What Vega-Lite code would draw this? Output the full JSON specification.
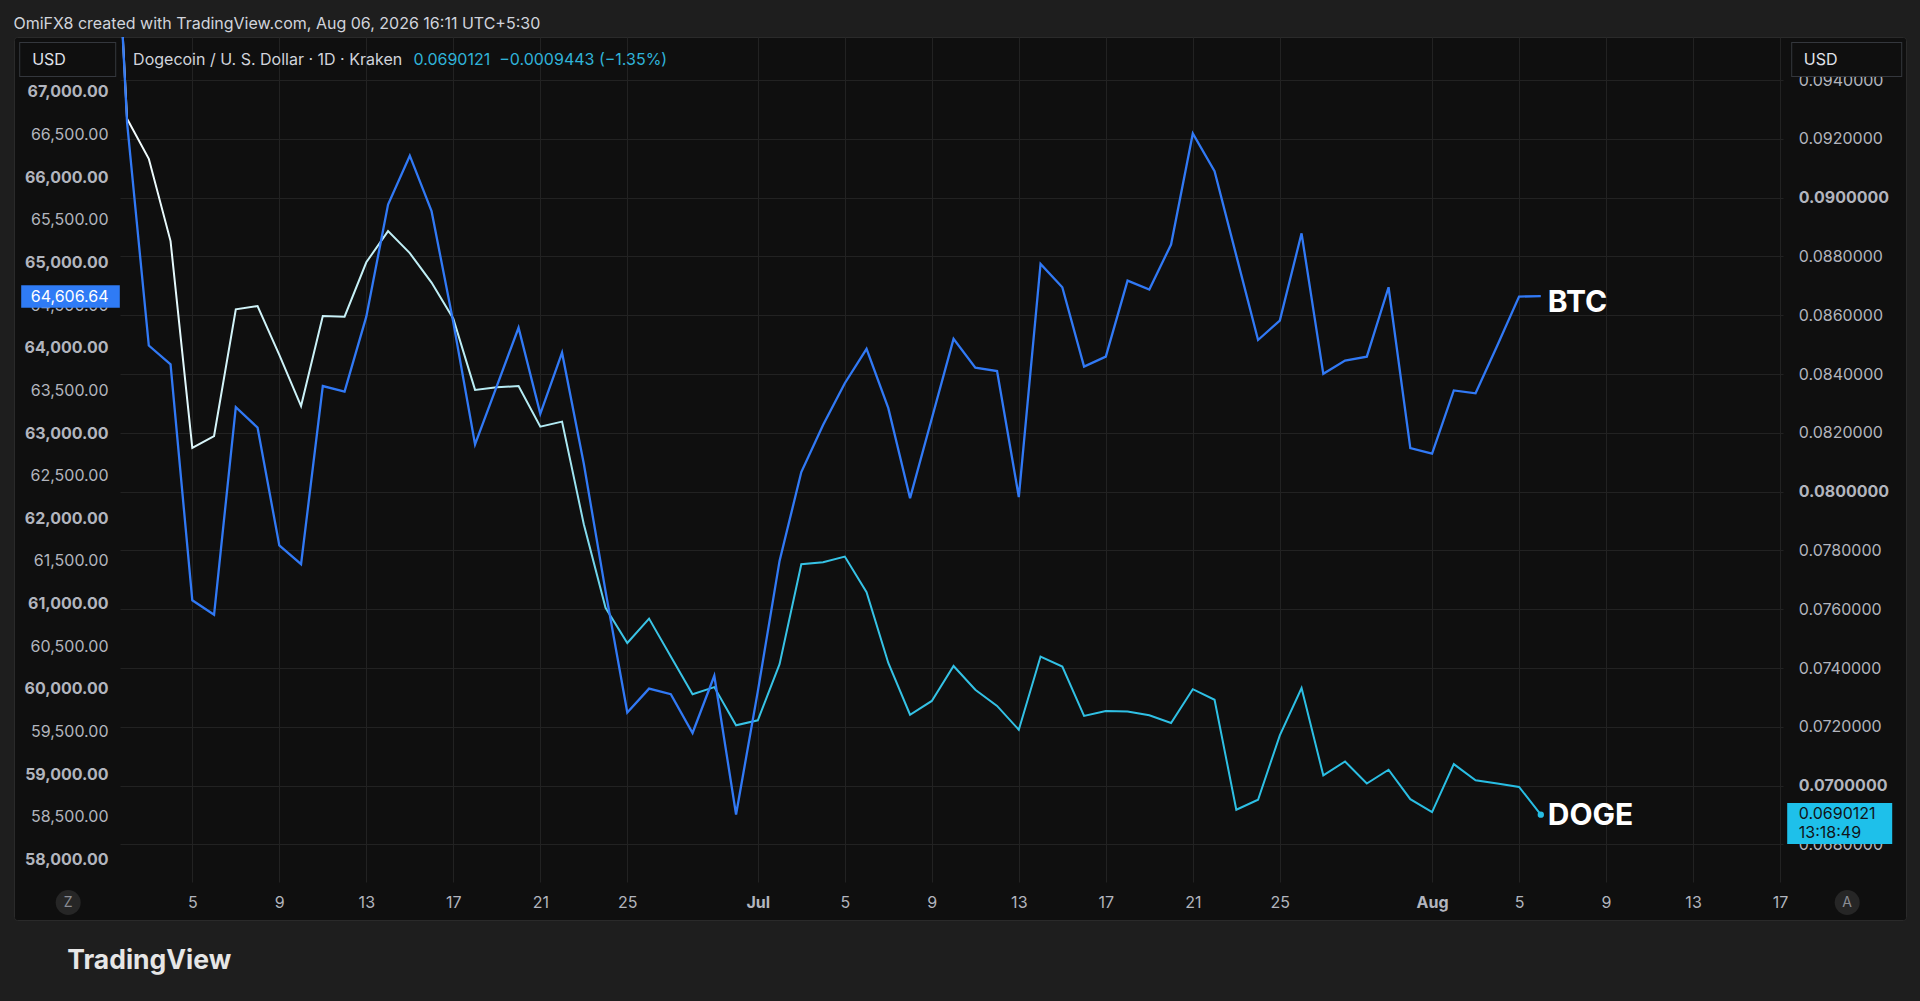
{
  "$schema": "https://vega.github.io/schema/vega-lite/v6.json",
  "width": 1892,
  "height": 883,
  "autosize": "none",
  "padding": {"left": 14, "top": 37, "right": 14, "bottom": 81},
  "background": "#1e1e1e",
  "config": {
    "view": {"fill": "#0f0f0f", "stroke": "#2a2a2a", "strokeWidth": 1, "cornerRadius": 3},
    "font": "Inter"
  },
  "title": {
    "text": "OmiFX8 created with TradingView.com, Aug 06, 2026 16:11 UTC+5:30",
    "anchor": "start",
    "frame": "group",
    "dx": -0.6,
    "offset": -3.7,
    "baseline": "middle",
    "font": "Inter",
    "fontSize": 16,
    "fontWeight": "normal",
    "color": "#d1d4dc"
  },
  "data": {
    "values": [
      {"date": "2026-06-01", "btc": 71700, "doge": 0.1070},
      {"date": "2026-06-02", "btc": 66644, "doge": 0.09268},
      {"date": "2026-06-03", "btc": 64026, "doge": 0.09132},
      {"date": "2026-06-04", "btc": 63805, "doge": 0.08852},
      {"date": "2026-06-05", "btc": 61038, "doge": 0.08149},
      {"date": "2026-06-06", "btc": 60868, "doge": 0.08189},
      {"date": "2026-06-07", "btc": 63304, "doge": 0.08620},
      {"date": "2026-06-08", "btc": 63063, "doge": 0.08631},
      {"date": "2026-06-09", "btc": 61682, "doge": 0.08465},
      {"date": "2026-06-10", "btc": 61461, "doge": 0.08291},
      {"date": "2026-06-11", "btc": 63551, "doge": 0.08597},
      {"date": "2026-06-12", "btc": 63486, "doge": 0.08595},
      {"date": "2026-06-13", "btc": 64365, "doge": 0.08780},
      {"date": "2026-06-14", "btc": 65680, "doge": 0.08886},
      {"date": "2026-06-15", "btc": 66253, "doge": 0.08811},
      {"date": "2026-06-16", "btc": 65602, "doge": 0.08711},
      {"date": "2026-06-17", "btc": 64300, "doge": 0.08588},
      {"date": "2026-06-18", "btc": 62867, "doge": 0.08346},
      {"date": "2026-06-19", "btc": 63551, "doge": 0.08355},
      {"date": "2026-06-20", "btc": 64235, "doge": 0.08359},
      {"date": "2026-06-21", "btc": 63225, "doge": 0.08221},
      {"date": "2026-06-22", "btc": 63942, "doge": 0.08238},
      {"date": "2026-06-23", "btc": 62640, "doge": 0.07889},
      {"date": "2026-06-24", "btc": 61142, "doge": 0.07605},
      {"date": "2026-06-25", "btc": 59722, "doge": 0.07485},
      {"date": "2026-06-26", "btc": 60002, "doge": 0.07568},
      {"date": "2026-06-27", "btc": 59937, "doge": 0.07439},
      {"date": "2026-06-28", "btc": 59481, "doge": 0.07311},
      {"date": "2026-06-29", "btc": 60152, "doge": 0.07335},
      {"date": "2026-06-30", "btc": 58525, "doge": 0.07205},
      {"date": "2026-07-01", "btc": 59970, "doge": 0.07222},
      {"date": "2026-07-02", "btc": 61500, "doge": 0.07413},
      {"date": "2026-07-03", "btc": 62542, "doge": 0.07753},
      {"date": "2026-07-04", "btc": 63095, "doge": 0.07760},
      {"date": "2026-07-05", "btc": 63584, "doge": 0.07779},
      {"date": "2026-07-06", "btc": 63987, "doge": 0.07658},
      {"date": "2026-07-07", "btc": 63291, "doge": 0.07417},
      {"date": "2026-07-08", "btc": 62236, "doge": 0.07241},
      {"date": "2026-07-09", "btc": 63170, "doge": 0.07288},
      {"date": "2026-07-10", "btc": 64104, "doge": 0.07407},
      {"date": "2026-07-11", "btc": 63766, "doge": 0.07326},
      {"date": "2026-07-12", "btc": 63727, "doge": 0.07271},
      {"date": "2026-07-13", "btc": 62249, "doge": 0.07190},
      {"date": "2026-07-14", "btc": 64983, "doge": 0.07439},
      {"date": "2026-07-15", "btc": 64710, "doge": 0.07405},
      {"date": "2026-07-16", "btc": 63779, "doge": 0.07237},
      {"date": "2026-07-17", "btc": 63896, "doge": 0.07254},
      {"date": "2026-07-18", "btc": 64788, "doge": 0.07252},
      {"date": "2026-07-19", "btc": 64684, "doge": 0.07239},
      {"date": "2026-07-20", "btc": 65211, "doge": 0.07213},
      {"date": "2026-07-21", "btc": 66513, "doge": 0.07328},
      {"date": "2026-07-22", "btc": 66071, "doge": 0.07292},
      {"date": "2026-07-23", "btc": 65081, "doge": 0.06918},
      {"date": "2026-07-24", "btc": 64091, "doge": 0.06952},
      {"date": "2026-07-25", "btc": 64319, "doge": 0.07171},
      {"date": "2026-07-26", "btc": 65342, "doge": 0.07332},
      {"date": "2026-07-27", "btc": 63694, "doge": 0.07035},
      {"date": "2026-07-28", "btc": 63850, "doge": 0.07082},
      {"date": "2026-07-29", "btc": 63896, "doge": 0.07007},
      {"date": "2026-07-30", "btc": 64710, "doge": 0.07054},
      {"date": "2026-07-31", "btc": 62822, "doge": 0.06954},
      {"date": "2026-08-01", "btc": 62757, "doge": 0.06910},
      {"date": "2026-08-02", "btc": 63499, "doge": 0.07073},
      {"date": "2026-08-03", "btc": 63466, "doge": 0.07018},
      {"date": "2026-08-04", "btc": 64026, "doge": 0.07007},
      {"date": "2026-08-05", "btc": 64600, "doge": 0.0699564},
      {"date": "2026-08-06", "btc": 64606.64, "doge": 0.0690121}
    ]
  },
  "encoding": {
    "x": {
      "field": "date",
      "type": "temporal",
      "scale": {
        "type": "utc",
        "domain": [
          {"year": 2026, "month": 5, "date": 27, "hours": 19, "minutes": 15, "utc": true},
          {"year": 2026, "month": 8, "date": 22, "hours": 18, "minutes": 58, "utc": true}
        ]
      },
      "axis": {
        "orient": "bottom",
        "offset": -38,
        "values": [
          {"year": 2026, "month": 6, "date": 5, "utc": true},
          {"year": 2026, "month": 6, "date": 9, "utc": true},
          {"year": 2026, "month": 6, "date": 13, "utc": true},
          {"year": 2026, "month": 6, "date": 17, "utc": true},
          {"year": 2026, "month": 6, "date": 21, "utc": true},
          {"year": 2026, "month": 6, "date": 25, "utc": true},
          {"year": 2026, "month": 7, "date": 1, "utc": true},
          {"year": 2026, "month": 7, "date": 5, "utc": true},
          {"year": 2026, "month": 7, "date": 9, "utc": true},
          {"year": 2026, "month": 7, "date": 13, "utc": true},
          {"year": 2026, "month": 7, "date": 17, "utc": true},
          {"year": 2026, "month": 7, "date": 21, "utc": true},
          {"year": 2026, "month": 7, "date": 25, "utc": true},
          {"year": 2026, "month": 8, "date": 1, "utc": true},
          {"year": 2026, "month": 8, "date": 5, "utc": true},
          {"year": 2026, "month": 8, "date": 9, "utc": true},
          {"year": 2026, "month": 8, "date": 13, "utc": true},
          {"year": 2026, "month": 8, "date": 17, "utc": true}
        ],
        "domain": false,
        "grid": false,
        "ticks": true,
        "tickSize": -845,
        "tickColor": "#222222",
        "tickWidth": 1,
        "labelPadding": 865.7,
        "labelBaseline": "middle",
        "labelAlign": "center",
        "labelExpr": "utcdate(datum.value) == 1 ? utcFormat(datum.value, '%b') : utcFormat(datum.value, '%-d')",
        "labelFontWeight": {"condition": {"test": "utcdate(datum.value) == 1", "value": "bold"}, "value": "normal"},
        "labelColor": "#b2b5be",
        "labelFont": "Inter",
        "labelFontSize": 16,
        "labelOverlap": false,
        "labelFlush": false,
        "labelBound": false,
        "title": "TradingView",
        "titleX": 52.7,
        "titleY": 78,
        "titleAnchor": "start",
        "titleAlign": "left",
        "titleBaseline": "middle",
        "titleFont": "Inter",
        "titleFontSize": 26.5,
        "titleFontWeight": "bold",
        "titleColor": "#e6e6e6",
        "zindex": 0
      }
    }
  },
  "layer": [
    {
      "mark": {
        "type": "line",
        "clip": true,
        "strokeWidth": 2,
        "stroke": {
          "gradient": "linear",
          "x1": 0, "y1": 0, "x2": 1, "y2": 0,
          "stops": [
            {"offset": 0, "color": "#ffffff"},
            {"offset": 0.08, "color": "#d3f4f9"},
            {"offset": 0.32, "color": "#b0eaf3"},
            {"offset": 0.36, "color": "#3ac4e6"},
            {"offset": 1, "color": "#27bde3"}
          ]
        }
      },
      "encoding": {
        "y": {
          "field": "doge",
          "type": "quantitative",
          "scale": {"domain": [0.065429, 0.0954626], "nice": false, "zero": false},
          "axis": {
            "orient": "right",
            "offset": -123,
            "values": [0.068, 0.07, 0.072, 0.074, 0.076, 0.078, 0.08, 0.082, 0.084, 0.086, 0.088, 0.09, 0.092, 0.094],
            "domain": false,
            "grid": false,
            "ticks": true,
            "tickSize": -1663,
            "tickColor": "#222222",
            "tickWidth": 1,
            "labelPadding": 1678.3,
            "labelAlign": "left",
            "labelBaseline": "middle",
            "labelExpr": "format(datum.value, '.7f')",
            "labelFontWeight": {"condition": {"test": "abs(datum.value * 100 - round(datum.value * 100)) < 0.000001", "value": "bold"}, "value": "normal"},
            "labelColor": "#b2b5be",
            "labelFont": "Inter",
            "labelFontSize": 16,
            "labelOverlap": false,
            "labelFlush": false,
            "labelBound": false,
            "title": "0.0690121\u00a0\u00a0−0.0009443 (−1.35%)",
            "titleX": -1370,
            "titleY": 22.3,
            "titleAngle": 0,
            "titleAlign": "left",
            "titleBaseline": "middle",
            "titleFont": "Inter",
            "titleFontSize": 16,
            "titleFontWeight": "normal",
            "titleColor": "#2fb3d9",
            "zindex": 0
          }
        }
      }
    },
    {
      "mark": {"type": "line", "clip": true, "strokeWidth": 2.3, "color": "#3179f5"},
      "encoding": {
        "y": {
          "field": "btc",
          "type": "quantitative",
          "scale": {"domain": [57288, 67645], "nice": false, "zero": false},
          "axis": {
            "orient": "left",
            "offset": -106,
            "values": [58000, 58500, 59000, 59500, 60000, 60500, 61000, 61500, 62000, 62500, 63000, 63500, 64000, 64500, 65000, 65500, 66000, 66500, 67000],
            "domain": false,
            "grid": false,
            "ticks": false,
            "labelPadding": 12,
            "labelAlign": "right",
            "labelBaseline": "middle",
            "labelExpr": "format(datum.value, ',.2f')",
            "labelFontWeight": {"condition": {"test": "datum.value % 1000 == 0", "value": "bold"}, "value": "normal"},
            "labelColor": "#b2b5be",
            "labelFont": "Inter",
            "labelFontSize": 16,
            "labelOverlap": false,
            "labelFlush": false,
            "labelBound": false,
            "title": "Dogecoin / U. S. Dollar · 1D · Kraken",
            "titleX": 12.6,
            "titleY": 22.3,
            "titleAngle": 0,
            "titleAlign": "left",
            "titleBaseline": "middle",
            "titleFont": "Inter",
            "titleFontSize": 16,
            "titleFontWeight": "normal",
            "titleColor": "#d1d4dc",
            "zindex": 0
          }
        }
      }
    },
    {
      "transform": [{"filter": "datum.btc == 64606.64"}],
      "mark": {"type": "text", "text": "BTC", "align": "left", "baseline": "middle", "dx": 7, "dy": 7, "font": "Inter", "fontSize": 30, "fontWeight": "bold", "color": "#ffffff", "clip": false},
      "encoding": {
        "y": {
          "field": "btc",
          "type": "quantitative",
          "scale": {"domain": [57288, 67645], "nice": false, "zero": false},
          "axis": {
            "orient": "left",
            "offset": -105.3,
            "values": [64606.64],
            "domain": false,
            "grid": false,
            "ticks": true,
            "tickSize": 98.6,
            "tickWidth": 22.7,
            "tickColor": "#2f7bf5",
            "tickCap": "butt",
            "labelPadding": -87.3,
            "labelAlign": "right",
            "labelBaseline": "middle",
            "labelExpr": "'64,606.64'",
            "labelColor": "#ffffff",
            "labelFont": "Inter",
            "labelFontSize": 16,
            "labelOverlap": false,
            "labelFlush": false,
            "labelBound": false,
            "title": null,
            "zindex": 2
          }
        }
      }
    },
    {
      "transform": [{"filter": "datum.btc == 64606.64"}],
      "mark": {"type": "point", "filled": true, "size": 40, "color": "#27bde3", "opacity": 1},
      "encoding": {
        "y": {
          "field": "doge",
          "type": "quantitative",
          "scale": {"domain": [0.065429, 0.0954626], "nice": false, "zero": false},
          "axis": {
            "orient": "right",
            "offset": -119.3,
            "values": [0.0690121],
            "domain": false,
            "grid": false,
            "ticks": true,
            "tickSize": 105,
            "tickWidth": 41,
            "tickOffset": 8.2,
            "tickColor": "#1ec0ea",
            "tickCap": "butt",
            "labelPadding": -93.4,
            "labelAlign": "left",
            "labelBaseline": "middle",
            "labelOffset": -9.2,
            "labelExpr": "'0.0690121'",
            "labelColor": "#101418",
            "labelFont": "Inter",
            "labelFontSize": 16,
            "labelOverlap": false,
            "labelFlush": false,
            "labelBound": false,
            "title": null,
            "zindex": 2
          }
        }
      }
    },
    {
      "transform": [{"filter": "datum.btc == 64606.64"}],
      "mark": {"type": "text", "text": "DOGE", "align": "left", "baseline": "middle", "dx": 7, "dy": 1, "font": "Inter", "fontSize": 30, "fontWeight": "bold", "color": "#ffffff", "clip": false},
      "encoding": {
        "y": {
          "field": "doge",
          "type": "quantitative",
          "scale": {"domain": [0.065429, 0.0954626], "nice": false, "zero": false},
          "axis": {
            "orient": "right",
            "offset": -119.3,
            "values": [0.0690121],
            "domain": false,
            "grid": false,
            "ticks": false,
            "labelPadding": 11.6,
            "labelAlign": "left",
            "labelBaseline": "middle",
            "labelOffset": 17.6,
            "labelExpr": "'13:18:49'",
            "labelColor": "#101418",
            "labelFont": "Inter",
            "labelFontSize": 16,
            "labelOverlap": false,
            "labelFlush": false,
            "labelBound": false,
            "title": null,
            "zindex": 3
          }
        }
      }
    },
    {
      "transform": [{"filter": "datum.btc == 64606.64"}],
      "mark": {"type": "text", "text": ""},
      "encoding": {
        "y": {
          "field": "btc",
          "type": "quantitative",
          "scale": {"domain": [57288, 67645], "nice": false, "zero": false},
          "axis": {
            "orient": "left",
            "offset": -101.7,
            "values": [67388.4],
            "domain": false,
            "grid": false,
            "labels": false,
            "ticks": true,
            "tickSize": 97,
            "tickWidth": 35,
            "tickColor": "#34373d",
            "tickCap": "butt",
            "title": null,
            "zindex": 3
          }
        }
      }
    },
    {
      "transform": [{"filter": "datum.btc == 64606.64"}],
      "mark": {"type": "text", "text": ""},
      "encoding": {
        "y": {
          "field": "btc",
          "type": "quantitative",
          "scale": {"domain": [57288, 67645], "nice": false, "zero": false},
          "axis": {
            "orient": "left",
            "offset": -100.7,
            "values": [67388.4],
            "domain": false,
            "grid": false,
            "labels": false,
            "ticks": true,
            "tickSize": 95,
            "tickWidth": 33,
            "tickColor": "#0f0f0f",
            "tickCap": "butt",
            "title": "USD",
            "titleX": -83,
            "titleY": 22.3,
            "titleAngle": 0,
            "titleAlign": "left",
            "titleBaseline": "middle",
            "titleFont": "Inter",
            "titleFontSize": 16,
            "titleFontWeight": "normal",
            "titleColor": "#e0e3eb",
            "zindex": 4
          }
        }
      }
    },
    {
      "transform": [{"filter": "datum.btc == 64606.64"}],
      "mark": {"type": "text", "text": ""},
      "encoding": {
        "y": {
          "field": "doge",
          "type": "quantitative",
          "scale": {"domain": [0.065429, 0.0954626], "nice": false, "zero": false},
          "axis": {
            "orient": "right",
            "offset": -115.3,
            "values": [0.0947075],
            "domain": false,
            "grid": false,
            "labels": false,
            "ticks": true,
            "tickSize": 111,
            "tickWidth": 35,
            "tickColor": "#34373d",
            "tickCap": "butt",
            "title": null,
            "zindex": 3
          }
        }
      }
    },
    {
      "transform": [{"filter": "datum.btc == 64606.64"}],
      "mark": {"type": "text", "text": ""},
      "encoding": {
        "y": {
          "field": "doge",
          "type": "quantitative",
          "scale": {"domain": [0.065429, 0.0954626], "nice": false, "zero": false},
          "axis": {
            "orient": "right",
            "offset": -114.3,
            "values": [0.0947075],
            "domain": false,
            "grid": false,
            "labels": false,
            "ticks": true,
            "tickSize": 109,
            "tickWidth": 33,
            "tickColor": "#0f0f0f",
            "tickCap": "butt",
            "title": "USD",
            "titleX": 11.6,
            "titleY": 22.3,
            "titleAngle": 0,
            "titleAlign": "left",
            "titleBaseline": "middle",
            "titleFont": "Inter",
            "titleFontSize": 16,
            "titleFontWeight": "normal",
            "titleColor": "#e0e3eb",
            "zindex": 4
          }
        }
      }
    },
    {
      "transform": [{"filter": "datum.btc == 64606.64"}],
      "mark": {"type": "text", "text": ""},
      "encoding": {
        "y": {
          "field": "btc",
          "type": "quantitative",
          "scale": {"domain": [57288, 67645], "nice": false, "zero": false},
          "axis": {
            "orient": "left",
            "offset": -53.7,
            "values": [57495],
            "domain": false,
            "grid": false,
            "ticks": true,
            "tickSize": 0.01,
            "tickWidth": 25,
            "tickColor": "#262626",
            "tickCap": "round",
            "labelPadding": -0.01,
            "labelAlign": "center",
            "labelBaseline": "middle",
            "labelExpr": "'Z'",
            "labelColor": "#8a8d94",
            "labelFont": "Inter",
            "labelFontSize": 14,
            "labelOverlap": false,
            "labelFlush": false,
            "labelBound": false,
            "title": null,
            "zindex": 3
          }
        }
      }
    },
    {
      "transform": [{"filter": "datum.btc == 64606.64"}],
      "mark": {"type": "text", "text": ""},
      "encoding": {
        "y": {
          "field": "doge",
          "type": "quantitative",
          "scale": {"domain": [0.065429, 0.0954626], "nice": false, "zero": false},
          "axis": {
            "orient": "right",
            "offset": -59.3,
            "values": [0.066031],
            "domain": false,
            "grid": false,
            "ticks": true,
            "tickSize": 0.01,
            "tickWidth": 25,
            "tickColor": "#262626",
            "tickCap": "round",
            "labelPadding": -0.01,
            "labelAlign": "center",
            "labelBaseline": "middle",
            "labelExpr": "'A'",
            "labelColor": "#8a8d94",
            "labelFont": "Inter",
            "labelFontSize": 14,
            "labelOverlap": false,
            "labelFlush": false,
            "labelBound": false,
            "title": null,
            "zindex": 3
          }
        }
      }
    }
  ],
  "resolve": {"scale": {"y": "independent"}, "axis": {"y": "independent"}}
}
